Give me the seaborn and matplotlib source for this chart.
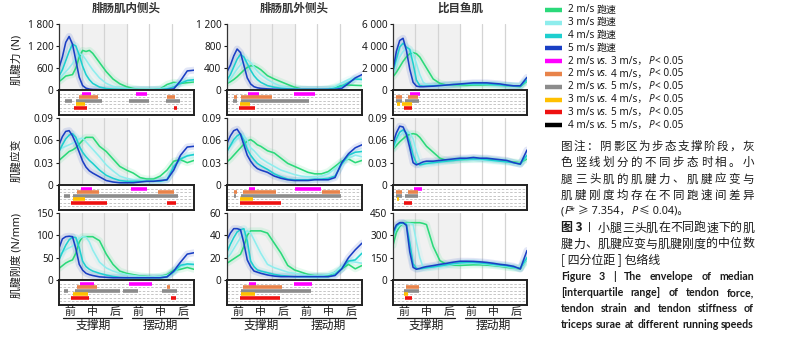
import numpy as np
import pandas as pd
import matplotlib
matplotlib.use('Agg')
import matplotlib.pyplot as plt
import seaborn as sns

# gait cycle (%) sampling used for all curves
x_pct = [0, 2.5, 5, 7.5, 10, 12.5, 15, 17.5, 20, 22.5, 25, 30, 35, 40, 45, 50,
         55, 60, 65, 70, 75, 80, 85, 90, 95, 100]
speeds = ['2 m/s', '3 m/s', '4 m/s', '5 m/s']
speed_colors = ['#2BD97A', '#8EEDED', '#1ECFCF', '#1A3FC4']

# tendon force (N)
gm_force = {
    '2 m/s': [230, 300, 380, 400, 420, 600, 900, 1080, 1050, 1080, 1000, 750, 500, 300, 170, 90, 40, 15, 10, 10, 30, 150, 210, 180, 200, 220],
    '3 m/s': [280, 400, 500, 600, 720, 880, 1000, 950, 820, 680, 550, 330, 180, 100, 60, 40, 25, 20, 20, 20, 30, 80, 160, 220, 250, 260],
    '4 m/s': [380, 550, 800, 1050, 1250, 1200, 950, 650, 420, 280, 180, 80, 40, 25, 20, 15, 10, 10, 10, 10, 15, 30, 80, 180, 260, 280],
    '5 m/s': [600, 900, 1300, 1460, 1250, 800, 350, 120, 50, 25, 15, 10, 5, 5, 5, 5, 5, 5, 5, 5, 5, 10, 30, 250, 520, 540],
}
gl_force = {
    '2 m/s': [120, 150, 190, 240, 300, 360, 410, 440, 440, 410, 370, 260, 200, 150, 100, 50, 20, 10, 10, 10, 20, 50, 80, 90, 85, 80],
    '3 m/s': [130, 200, 290, 380, 460, 540, 550, 500, 420, 340, 280, 190, 120, 70, 40, 25, 20, 15, 15, 15, 25, 60, 130, 190, 220, 210],
    '4 m/s': [180, 280, 420, 560, 650, 600, 480, 360, 260, 190, 140, 80, 50, 30, 20, 15, 10, 10, 10, 10, 15, 30, 70, 140, 200, 190],
    '5 m/s': [330, 450, 620, 745, 680, 450, 220, 110, 60, 40, 30, 20, 15, 10, 10, 10, 10, 10, 10, 10, 10, 10, 30, 120, 220, 280],
}
sol_force = {
    '2 m/s': [1200, 1600, 2100, 2600, 3000, 3300, 3400, 3300, 3000, 2500, 2000, 1000, 600, 450, 420, 420, 420, 450, 450, 450, 450, 420, 400, 350, 300, 800],
    '3 m/s': [1500, 2300, 3000, 3500, 3800, 3700, 3300, 2400, 1400, 700, 500, 420, 420, 450, 480, 500, 520, 520, 520, 500, 480, 450, 420, 400, 380, 900],
    '4 m/s': [1700, 2800, 3900, 4250, 3900, 3700, 2400, 900, 400, 350, 350, 380, 420, 450, 500, 500, 550, 550, 550, 550, 500, 450, 400, 380, 350, 900],
    '5 m/s': [1800, 3500, 4500, 4700, 3600, 1900, 700, 350, 300, 300, 320, 350, 400, 450, 500, 550, 600, 650, 650, 650, 600, 550, 450, 380, 380, 1150],
}
# tendon strain
gm_strain = {
    '2 m/s': [0.033, 0.037, 0.041, 0.045, 0.047, 0.05, 0.055, 0.06, 0.064, 0.064, 0.064, 0.052, 0.045, 0.035, 0.025, 0.02, 0.016, 0.01, 0.008, 0.008, 0.012, 0.02, 0.032, 0.034, 0.03, 0.033],
    '3 m/s': [0.047, 0.05, 0.052, 0.054, 0.056, 0.059, 0.062, 0.063, 0.058, 0.053, 0.048, 0.038, 0.027, 0.019, 0.012, 0.009, 0.007, 0.006, 0.006, 0.006, 0.006, 0.008, 0.022, 0.035, 0.04, 0.04],
    '4 m/s': [0.045, 0.054, 0.062, 0.067, 0.069, 0.064, 0.052, 0.044, 0.038, 0.033, 0.029, 0.02, 0.013, 0.009, 0.006, 0.005, 0.005, 0.005, 0.005, 0.005, 0.005, 0.007, 0.025, 0.035, 0.039, 0.041],
    '5 m/s': [0.054, 0.065, 0.072, 0.073, 0.066, 0.056, 0.044, 0.032, 0.024, 0.019, 0.016, 0.011, 0.006, 0.004, 0.003, 0.003, 0.003, 0.004, 0.005, 0.005, 0.006, 0.007, 0.02, 0.04, 0.051, 0.052],
}
gl_strain = {
    '2 m/s': [0.031, 0.035, 0.04, 0.045, 0.05, 0.055, 0.059, 0.061, 0.058, 0.054, 0.052, 0.046, 0.043, 0.036, 0.029, 0.025, 0.021, 0.017, 0.015, 0.015, 0.018, 0.025, 0.032, 0.035, 0.03, 0.033],
    '3 m/s': [0.047, 0.052, 0.057, 0.062, 0.065, 0.066, 0.06, 0.05, 0.046, 0.041, 0.036, 0.03, 0.025, 0.02, 0.017, 0.014, 0.012, 0.011, 0.011, 0.012, 0.015, 0.022, 0.03, 0.036, 0.04, 0.038],
    '4 m/s': [0.045, 0.053, 0.061, 0.066, 0.069, 0.06, 0.048, 0.04, 0.034, 0.029, 0.026, 0.021, 0.015, 0.011, 0.008, 0.007, 0.007, 0.007, 0.008, 0.008, 0.009, 0.012, 0.028, 0.04, 0.044, 0.045],
    '5 m/s': [0.056, 0.066, 0.073, 0.075, 0.068, 0.054, 0.04, 0.032, 0.026, 0.022, 0.02, 0.017, 0.012, 0.009, 0.007, 0.006, 0.006, 0.006, 0.007, 0.007, 0.007, 0.01, 0.03, 0.042, 0.05, 0.054],
}
sol_strain = {
    '2 m/s': [0.048, 0.053, 0.058, 0.062, 0.066, 0.068, 0.069, 0.068, 0.064, 0.058, 0.052, 0.044, 0.036, 0.033, 0.033, 0.034, 0.034, 0.035, 0.035, 0.035, 0.034, 0.033, 0.032, 0.031, 0.03, 0.035],
    '3 m/s': [0.048, 0.058, 0.066, 0.07, 0.071, 0.07, 0.062, 0.045, 0.032, 0.028, 0.028, 0.029, 0.031, 0.032, 0.033, 0.034, 0.034, 0.034, 0.034, 0.033, 0.032, 0.032, 0.031, 0.03, 0.029, 0.038],
    '4 m/s': [0.05, 0.062, 0.071, 0.074, 0.07, 0.058, 0.04, 0.029, 0.027, 0.028, 0.029, 0.03, 0.031, 0.032, 0.033, 0.034, 0.035, 0.035, 0.035, 0.034, 0.033, 0.032, 0.031, 0.03, 0.028, 0.04],
    '5 m/s': [0.056, 0.07, 0.079, 0.078, 0.068, 0.05, 0.03, 0.027, 0.029, 0.031, 0.032, 0.032, 0.033, 0.034, 0.035, 0.036, 0.036, 0.037, 0.036, 0.036, 0.035, 0.034, 0.033, 0.03, 0.028, 0.047],
}
# tendon stiffness (N/mm)
gm_stiff = {
    '2 m/s': [26, 32, 38, 42, 45, 60, 85, 97, 97, 97, 97, 88, 58, 35, 20, 15, 12, 9, 8, 7, 8, 12, 22, 24, 28, 24],
    '3 m/s': [56, 62, 68, 72, 76, 85, 93, 97, 96, 85, 67, 40, 27, 20, 15, 12, 10, 8, 7, 7, 8, 10, 18, 30, 35, 34],
    '4 m/s': [45, 62, 78, 90, 96, 95, 72, 42, 30, 24, 20, 15, 11, 8, 6, 5, 5, 5, 5, 5, 5, 7, 18, 33, 36, 35],
    '5 m/s': [71, 92, 97, 98, 97, 70, 35, 22, 15, 12, 10, 7, 6, 5, 5, 5, 5, 5, 5, 5, 5, 7, 20, 40, 58, 61],
}
gl_stiff = {
    '2 m/s': [15, 17, 19, 21, 23, 30, 40, 44, 44, 44, 44, 42, 33, 24, 13, 9, 7, 5, 4, 4, 4, 7, 10, 14, 10, 13],
    '3 m/s': [19.5, 23, 28, 33, 38, 42, 44, 42, 36, 30, 24, 14, 11, 9, 7, 6, 5, 4, 4, 4, 5, 7, 12, 17, 16, 15],
    '4 m/s': [25, 32, 38, 43, 45, 46, 35, 17, 12, 9, 8, 6.5, 5, 4, 3.5, 3, 3, 3, 3, 3, 3, 5, 10, 17, 18, 24],
    '5 m/s': [36, 42, 46, 46, 45, 33, 18, 12, 8, 7, 6, 4.5, 3.5, 3, 3, 3, 3, 3, 3, 3, 3, 4, 10, 20, 27, 33],
}
sol_stiff = {
    '2 m/s': [232, 320, 360, 380, 385, 385, 385, 385, 385, 380, 372, 225, 130, 105, 100, 98, 100, 102, 102, 100, 97, 92, 85, 80, 75, 140],
    '3 m/s': [300, 345, 370, 378, 380, 380, 375, 254, 150, 85, 82, 85, 90, 98, 105, 110, 112, 112, 110, 106, 100, 95, 90, 82, 78, 140],
    '4 m/s': [300, 360, 380, 383, 375, 250, 110, 78, 75, 78, 82, 88, 95, 102, 110, 115, 118, 118, 115, 110, 105, 100, 95, 85, 80, 150],
    '5 m/s': [322, 370, 385, 385, 367, 190, 85, 72, 78, 85, 90, 97, 105, 112, 120, 126, 126, 125, 122, 118, 112, 105, 100, 92, 74, 198],
}

# pairwise comparisons: 0=2v3 1=2v4 2=2v5 3=3v4 4=3v5 5=4v5
comp_labels = ['2 m/s vs. 3 m/s', '2 m/s vs. 4 m/s', '2 m/s vs. 5 m/s',
               '3 m/s vs. 4 m/s', '3 m/s vs. 5 m/s', '4 m/s vs. 5 m/s']
comp_colors = ['#FF00FF', '#E8834A', '#8C8C8C', '#FFC000', '#EE1111', '#000000']

# significant intervals (comparison, start %, end %)
sig_gm_force = [(0, 17, 24), (0, 57, 65), (1, 14.5, 29), (1, 80, 86),
                (2, 4.5, 9.5), (2, 12.5, 32), (2, 51.5, 66.5), (2, 79, 89.5),
                (3, 12.5, 19.5), (4, 11, 21), (4, 85, 87.5)]
sig_gl_force = [(0, 15.5, 23.5), (0, 49.5, 65), (1, 5.5, 7.5), (1, 10.5, 33.5),
                (2, 4.5, 7.5), (2, 10.5, 60.5), (3, 9.5, 17), (4, 9, 21)]
sig_sol_force = [(0, 13, 20.5), (1, 2, 7), (1, 11.5, 19), (2, 2, 7), (2, 9, 19.5),
                 (3, 3, 5), (3, 7, 14.5), (4, 8, 14)]
sig_gm_strain = [(0, 16, 24.5), (0, 53, 65.5), (1, 13, 29.5), (1, 73, 85),
                 (2, 4, 8), (2, 10.5, 88.5), (3, 10, 19), (4, 9, 35.5), (4, 80, 87)]
sig_gl_strain = [(0, 16.5, 21), (0, 50.5, 69.5), (1, 5.5, 7.5), (1, 12, 36.5), (1, 70, 83.5),
                 (2, 5, 7), (2, 10.5, 84.5), (3, 9.5, 19), (4, 9.5, 40)]
sig_sol_strain = [(0, 15.5, 21.5), (1, 2, 7), (1, 11, 18.5), (2, 2, 7), (2, 9, 19),
                  (3, 3, 4.5), (4, 8, 14)]
sig_gm_stiff = [(0, 15.5, 26), (0, 52, 69), (1, 13, 28), (1, 80, 82.5),
                (2, 4, 7), (2, 11.5, 45.5), (2, 47.5, 58.5), (2, 76, 87.5),
                (3, 10.5, 21.5), (4, 9, 22.5), (4, 83, 86.5)]
sig_gl_stiff = [(0, 16, 21.5), (0, 49.5, 63), (1, 12, 41), (2, 10.5, 62),
                (3, 10, 20.5), (4, 9.5, 39)]
sig_sol_stiff = [(1, 9.5, 19.5), (2, 8.5, 19.5), (3, 8.5, 11), (4, 9, 14)]

muscles = ['腓肠肌内侧头', '腓肠肌外侧头', '比目鱼肌']
row_labels = ['肌腱力 (N)', '肌腱应变', '肌腱刚度 (N/mm)']
panels = [
    [(gm_force, [0, 600, 1200, 1800], ['0', '600', '1 200', '1 800'], sig_gm_force),
     (gl_force, [0, 400, 800, 1200], ['0', '400', '800', '1 200'], sig_gl_force),
     (sol_force, [0, 2000, 4000, 6000], ['0', '2 000', '4 000', '6 000'], sig_sol_force)],
    [(gm_strain, [0, 0.03, 0.06, 0.09], ['0', '0.03', '0.06', '0.09'], sig_gm_strain),
     (gl_strain, [0, 0.03, 0.06, 0.09], ['0', '0.03', '0.06', '0.09'], sig_gl_strain),
     (sol_strain, [0, 0.03, 0.06, 0.09], ['0', '0.03', '0.06', '0.09'], sig_sol_strain)],
    [(gm_stiff, [0, 50, 100, 150], ['0', '50', '100', '150'], sig_gm_stiff),
     (gl_stiff, [0, 20, 40, 60], ['0', '20', '40', '60'], sig_gl_stiff),
     (sol_stiff, [0, 150, 300, 450], ['0', '150', '300', '450'], sig_sol_stiff)],
]

sns.set_theme(style='white')
plt.rcParams['font.family'] = ['Noto Sans', 'Noto Sans CJK SC', 'DejaVu Sans']
cjk = ['Noto Sans CJK SC', 'DejaVu Sans']
ink = '#1a1a1a'

W, H = 808, 344
fig = plt.figure(figsize=(W / 100, H / 100), dpi=100)


def px_axes(x0, y0, x1, y1):
    return fig.add_axes([x0 / W, 1 - y1 / H, (x1 - x0) / W, (y1 - y0) / H])


cols = [(59, 194), (227, 362), (393, 527)]
rows = [(24, 90, 115), (118, 185, 210), (213, 280, 305)]
phase_edges = [100 / 6, 200 / 6, 400 / 6, 500 / 6]

for r, (top, zero, bottom) in enumerate(rows):
    for c, (left, right) in enumerate(cols):
        data, ticks, tlabels, sig = panels[r][c]
        ax = px_axes(left, top, right, zero)
        ax.axvspan(0, 50, color='#F1F1F1', lw=0, zorder=0)
        for e in phase_edges + [50]:
            ax.axvline(e, color='#D4D4D4', lw=0.9, zorder=0.5)
        df = pd.DataFrame([(x, v, s) for s in speeds for x, v in zip(x_pct, data[s])],
                          columns=['x', 'v', 'speed'])
        # faint halo standing in for the IQR envelope
        sns.lineplot(data=df, x='x', y='v', hue='speed', hue_order=speeds,
                     palette=speed_colors, ax=ax, legend=False, lw=5, alpha=0.12)
        sns.lineplot(data=df, x='x', y='v', hue='speed', hue_order=speeds,
                     palette=speed_colors, ax=ax, legend=False, lw=1.15)
        ax.set_xlim(0, 100)
        ax.set_ylim(0, ticks[-1])
        ax.set_yticks(ticks)
        ax.set_yticklabels(tlabels)
        ax.set_xticks([])
        ax.set_xlabel('')
        ax.set_ylabel('')
        for sp in ['top', 'right', 'bottom']:
            ax.spines[sp].set_visible(False)
        ax.spines['left'].set_color('#333333')
        ax.spines['left'].set_linewidth(0.9)
        ax.tick_params(axis='y', left=True, direction='out', length=2.5, width=0.8,
                       labelsize=7.2, pad=1.5, colors=ink)
        ax.patch.set_alpha(0)

        sx = px_axes(left, zero, right, bottom)
        sx.set_xlim(0, 100)
        sx.set_ylim(0, 7)
        sx.hlines([1, 2, 3, 4, 5, 6], 0, 100, colors='#BDBDBD', linestyles=(0, (3, 2)), lw=0.6)
        for k, s, e in sig:
            sx.hlines(6 - k, s, e, colors=comp_colors[k], lw=2.6)
        sx.set_xticks([])
        sx.set_yticks([])
        for sp in sx.spines.values():
            sp.set_color('#222222')
            sp.set_linewidth(1.4)

# overlay in pixel coordinates for all free text
ov = fig.add_axes([0, 0, 1, 1])
ov.set_xlim(0, W)
ov.set_ylim(H, 0)
ov.axis('off')
renderer = fig.canvas.get_renderer()

for c, (left, right) in enumerate(cols):
    w = right - left
    ov.text((left + right) / 2, 8, muscles[c], ha='center', va='center',
            fontsize=8.3, family=cjk, weight='bold', color='#333333')
    for i, ph in enumerate(['前', '中', '后', '前', '中', '后']):
        ov.text(left + w * (i + 0.5) / 6, 311.5, ph, ha='center', va='center',
                fontsize=7.8, family=cjk, color=ink)
    ov.plot([left + 0.027 * w, left + 0.464 * w], [317.5, 317.5], color=ink, lw=0.9)
    ov.plot([left + 0.538 * w, left + 0.958 * w], [317.5, 317.5], color=ink, lw=0.9)
    ov.text(left + 0.25 * w, 325.5, '支撑期', ha='center', va='center', fontsize=8.5,
            family=cjk, color=ink)
    ov.text(left + 0.75 * w, 325.5, '摆动期', ha='center', va='center', fontsize=8.5,
            family=cjk, color=ink)

for r, y in enumerate([60, 160, 255]):
    ov.text(17, y, row_labels[r], rotation=90, ha='center', va='center',
            fontsize=7.8, color=ink)


def run(x0, y, pieces, **kw):
    # place text pieces left to right: (gap_before, text, extra kwargs)
    x = x0
    for gap, s, extra in pieces:
        x += gap
        t = ov.text(x, y, s, ha='left', va='center', **kw, **extra)
        x += t.get_window_extent(renderer).width


def justify(x0, x1, y, pieces, **kw):
    texts = [ov.text(x0, y, p, ha='left', va='center', **kw) for p in pieces]
    widths = [t.get_window_extent(renderer).width for t in texts]
    gap = (x1 - x0 - sum(widths)) / (len(pieces) - 1)
    x = x0
    for t, wd in zip(texts, widths):
        t.set_x(x)
        x += wd + gap


it = {'style': 'italic'}
leg_y = [10 + 12.8 * i for i in range(10)]
for i, s in enumerate(speeds):
    ov.plot([545, 562], [leg_y[i], leg_y[i]], color=speed_colors[i], lw=3.2,
            solid_capstyle='butt')
    run(568, leg_y[i], [(0, s, {}), (2.5, '跑速', {})], fontsize=7.2, color=ink)
for k in range(6):
    y = leg_y[4 + k]
    a, b = comp_labels[k].split(' vs. ')
    ov.plot([545, 562], [y, y], color=comp_colors[k], lw=3.2, solid_capstyle='butt')
    run(568, y, [(0, a, {}), (2.5, 'vs.', it), (2.5, b + '，', {}), (1.5, 'P', it),
                 (1, '< 0.05', {})], fontsize=7.2, color=ink)

note = ['图注：阴影区为步态支撑阶段，灰', '色竖线划分的不同步态时相。小',
        '腿三头肌的肌腱力、肌腱应变与', '肌腱刚度均存在不同跑速间差异']
for i, line in enumerate(note):
    justify(561, 754, 146.5 + 16.3 * i, list(line), fontsize=8.3, family=cjk, color=ink)
run(561, 211.5, [(0, '(', {}), (0, 'F', it), (0, '* ≥ 7.354，', {}), (1, 'P', it),
                 (1, '≤ 0.04)。', {})], fontsize=7.8, color=ink)

run(561, 228, [(0, '图 3', {'weight': 'bold'})], fontsize=8.6, family=cjk, color=ink)
ov.text(589.5, 228, '丨', ha='center', va='center', fontsize=8, family=cjk, color=ink)
justify(598, 754, 228, list('小腿三头肌在不同跑速下的肌'), fontsize=8.6, family=cjk,
        color=ink, weight='medium')
justify(561, 754, 244, list('腱力、肌腱应变与肌腱刚度的中位数'), fontsize=8.6, family=cjk,
        color=ink, weight='medium')
run(561, 260, [(0, '[ 四分位距 ] 包络线', {})], fontsize=8.6, family=cjk, color=ink,
    weight='medium')

eng = [['Figure', '3', '|', 'The', 'envelope', 'of', 'median'],
       ['[interquartile', 'range]', 'of', 'tendon', 'force,'],
       ['tendon', 'strain', 'and', 'tendon', 'stiffness', 'of'],
       ['triceps', 'surae', 'at', 'different', 'running', 'speeds']]
for i, words in enumerate(eng):
    justify(561, 754, 277 + 15.7 * i, words, fontsize=7.7, family=['Lato', 'DejaVu Sans'],
            weight='bold', color=ink)

fig.savefig('out.png', dpi=100)
